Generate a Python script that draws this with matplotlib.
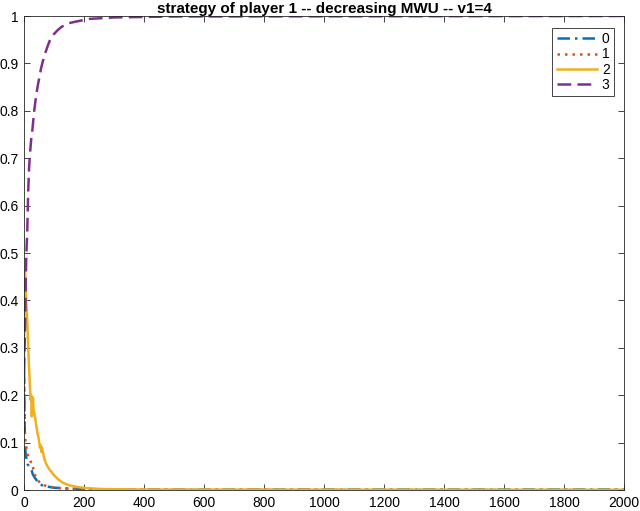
import matplotlib
matplotlib.use("Agg")
import matplotlib.pyplot as plt

plt.rcParams['font.family'] = ['Liberation Sans', 'DejaVu Sans']

# series data (iteration, probability)
t0 = [0, 1, 2, 3, 5, 7, 9, 12, 16, 20, 25, 30, 37, 45, 55, 65, 80, 97, 120, 150, 200, 250, 400, 2000]
p0 = [0.25, 0.21, 0.15, 0.10, 0.08, 0.07, 0.063, 0.055, 0.05, 0.045, 0.042, 0.032, 0.025, 0.018, 0.012, 0.008, 0.007, 0.005, 0.004, 0.003, 0.002, 0.001, 0.001, 0.001]

t1 = [0, 1, 2, 3, 5, 8, 11, 14, 18, 22, 26, 29, 32, 38, 45, 53, 62, 77, 95, 120, 150, 200, 300, 2000]
p1 = [0.25, 0.21, 0.16, 0.12, 0.10, 0.09, 0.08, 0.07, 0.065, 0.06, 0.058, 0.057, 0.035, 0.03, 0.022, 0.015, 0.011, 0.008, 0.006, 0.004, 0.003, 0.001, 0.0005, 0.0]

t2 = [0, 1, 2, 3, 5, 7, 10, 13, 16, 19, 22, 24, 26, 28, 30, 32, 35, 40, 45, 50, 53, 55, 58, 60, 63, 67, 72, 80, 87, 100, 115, 130, 150, 180, 210, 260, 400, 2000]
p2 = [0.25, 0.35, 0.42, 0.46, 0.44, 0.40, 0.37, 0.32, 0.27, 0.23, 0.19, 0.20, 0.155, 0.19, 0.195, 0.17, 0.16, 0.14, 0.12, 0.105, 0.09, 0.095, 0.08, 0.09, 0.08, 0.068, 0.058, 0.048, 0.042, 0.031, 0.022, 0.015, 0.010, 0.006, 0.004, 0.002, 0.001, 0.0005]

t3 = [0, 1, 3, 5, 6, 8, 11, 14, 17, 20, 24, 28, 34, 40, 45, 51, 57, 63, 70, 78, 87, 100, 112, 125, 150, 187, 220, 300, 500, 2000]
p3 = [0.25, 0.28, 0.33, 0.40, 0.45, 0.50, 0.55, 0.63, 0.68, 0.71, 0.74, 0.76, 0.80, 0.83, 0.85, 0.87, 0.89, 0.905, 0.92, 0.935, 0.95, 0.962, 0.97, 0.977, 0.985, 0.99, 0.994, 0.997, 0.999, 1.0]

labels = ['0', '1', '2', '3']
title = 'strategy of player 1 -- decreasing MWU -- v1=4'
xticks = list(range(0, 2001, 200))
yticks = [0, 0.1, 0.2, 0.3, 0.4, 0.5, 0.6, 0.7, 0.8, 0.9, 1]
ytick_labels = ['0', '0.1', '0.2', '0.3', '0.4', '0.5', '0.6', '0.7', '0.8', '0.9', '1']

colors = [(0, 0.447, 0.741), (0.85, 0.325, 0.098), (0.929, 0.694, 0.125), (0.494, 0.184, 0.556)]
styles = [(0, (5, 2, 1, 2)), (0, (1, 2)), '-', (0, (5.5, 2.5))]

fig = plt.figure(figsize=(6.4, 5.11), dpi=100)
ax = fig.add_axes([24 / 640, 21 / 511, 600 / 640, 474 / 511])

for t, p, c, ls, lab in zip([t0, t1, t2, t3], [p0, p1, p2, p3], colors, styles, labels):
    ax.plot(t, p, color=c, linestyle=ls, linewidth=1.8, label=lab)

ax.set_xlim(0, 2000)
ax.set_ylim(0, 1)
ax.set_xticks(xticks)
ax.set_xticklabels([str(v) for v in xticks])
ax.set_yticks(yticks)
ax.set_yticklabels(ytick_labels)
axcol = (0.15, 0.15, 0.15)
for s in ax.spines.values():
    s.set_color(axcol)
    s.set_linewidth(0.6)
ax.tick_params(direction='in', length=4, width=0.6, colors=axcol, labelsize=10,
               top=True, right=True, labelcolor='black', pad=4)
ax.set_title(title, fontsize=11, fontweight='bold', pad=2)

leg = ax.legend(loc='upper right', bbox_to_anchor=(0.983, 0.975), borderaxespad=0,
                fontsize=10, handlelength=2.9, handletextpad=0.35, labelspacing=0.1,
                borderpad=0.3, fancybox=False, framealpha=1)
leg.get_frame().set_edgecolor(axcol)
leg.get_frame().set_linewidth(0.6)

fig.savefig('out.png', dpi=100)
